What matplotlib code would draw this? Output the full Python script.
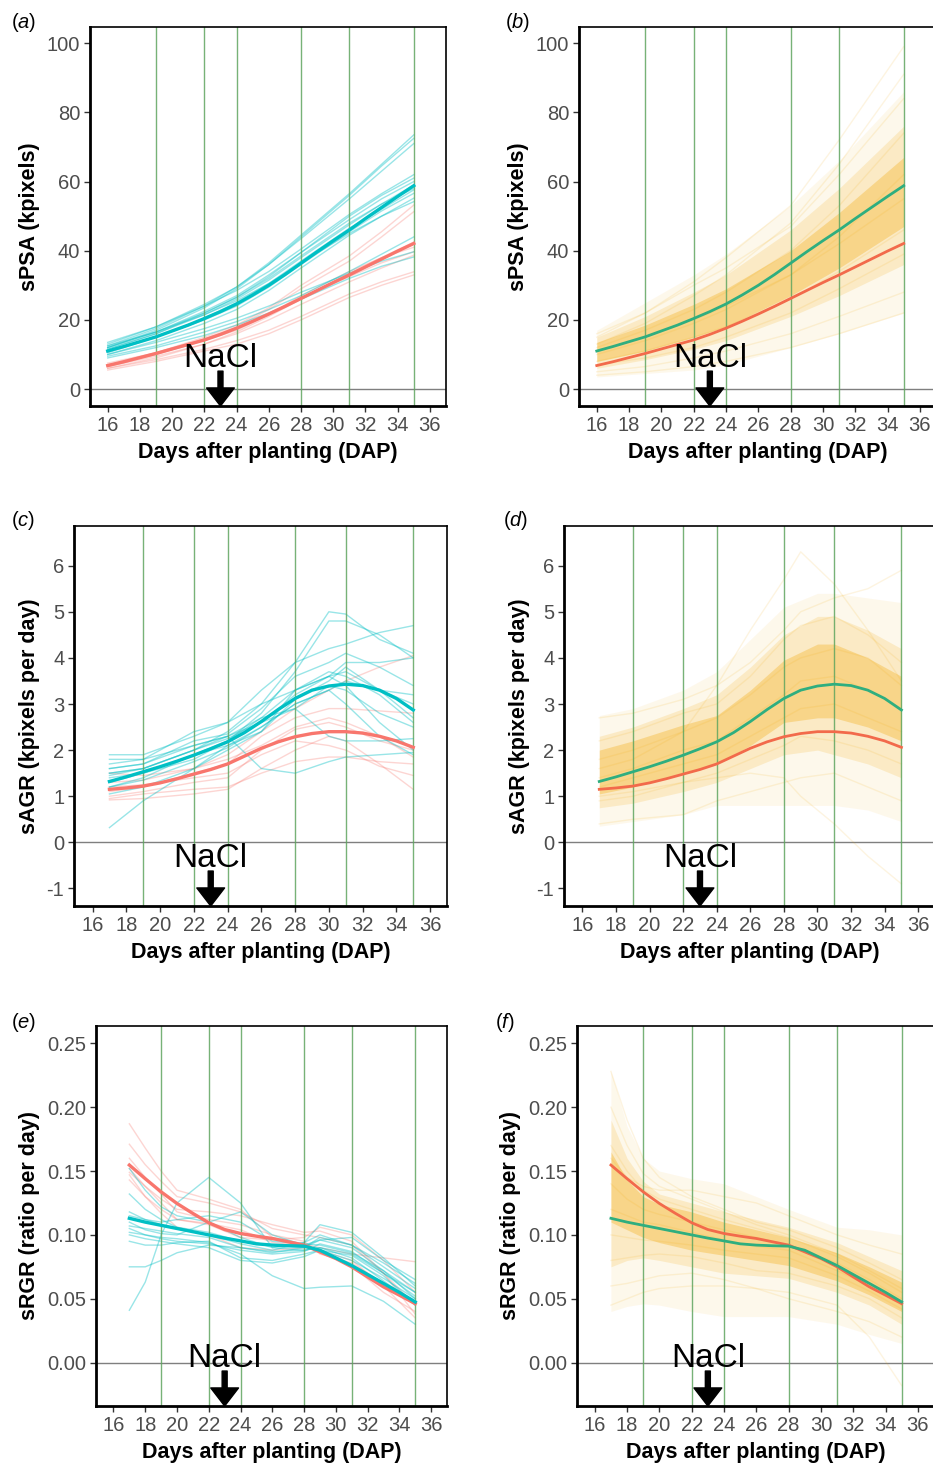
import matplotlib
matplotlib.use('Agg')
import matplotlib.pyplot as plt

plt.rcParams['font.family'] = ['Liberation Sans', 'DejaVu Sans']
plt.rcParams['mathtext.fontset'] = 'custom'
plt.rcParams['mathtext.it'] = 'Liberation Sans:italic'
plt.rcParams['mathtext.rm'] = 'Liberation Sans'

# ---------------- data ----------------
stage_days = [19, 22, 24, 28, 31, 35]
nacl_day = 23

days_psa = list(range(16, 36))
days_gr = list(range(17, 36))

# treatment means
psa_ctrl = [11.0, 12.3, 13.7, 15.1, 16.8, 18.5, 20.4, 22.4, 24.6, 27.2,
            30.0, 33.1, 36.4, 39.7, 42.9, 46.0, 49.3, 52.5, 55.7, 58.8]
psa_salt = [6.8, 7.9, 9.1, 10.3, 11.6, 12.9, 14.2, 15.8, 17.6, 19.6,
            21.7, 23.9, 26.2, 28.5, 30.8, 33.0, 35.3, 37.6, 39.9, 42.1]
agr_ctrl = [1.32, 1.42, 1.53, 1.64, 1.76, 1.89, 2.03, 2.18, 2.38, 2.62,
            2.88, 3.12, 3.30, 3.39, 3.43, 3.40, 3.30, 3.12, 2.87]
agr_salt = [1.15, 1.18, 1.22, 1.29, 1.38, 1.48, 1.58, 1.70, 1.87, 2.04,
            2.18, 2.29, 2.36, 2.40, 2.40, 2.37, 2.30, 2.20, 2.06]
rgr_ctrl = [0.113, 0.110, 0.1075, 0.105, 0.1025, 0.100, 0.0975, 0.0953, 0.093, 0.092,
            0.0915, 0.0912, 0.088, 0.082, 0.076, 0.069, 0.062, 0.055, 0.0475]
rgr_salt = [0.1547, 0.144, 0.1337, 0.1246, 0.1168, 0.1095, 0.1042, 0.1011, 0.099, 0.0972,
            0.0946, 0.092, 0.0867, 0.0815, 0.075, 0.0671, 0.0593, 0.0528, 0.0462]

# individual plants, panel (a)
days_a = [16, 19, 22, 24, 26, 28, 31, 33, 35]
psa_ctrl_plants = [
    [12.5, 17.5, 24.0, 29.5, 36.5, 44.5, 56.5, 65.0, 73.5],
    [12.0, 17.0, 23.5, 29.0, 36.0, 44.0, 56.0, 64.5, 72.5],
    [13.0, 18.0, 24.5, 29.5, 36.0, 43.5, 55.0, 63.0, 71.0],
    [13.5, 18.0, 24.0, 28.5, 34.0, 40.5, 50.5, 56.5, 62.0],
    [12.0, 16.5, 22.5, 27.0, 33.0, 39.5, 49.0, 55.0, 60.0],
    [11.5, 16.0, 21.5, 26.0, 31.5, 38.0, 47.5, 53.5, 59.0],
    [10.5, 15.0, 20.5, 25.0, 30.5, 37.0, 46.5, 52.0, 57.6],
    [11.0, 15.0, 20.0, 24.0, 29.5, 36.0, 45.5, 51.5, 56.6],
    [10.0, 14.0, 19.0, 23.0, 28.5, 35.0, 44.5, 50.0, 55.2],
    [12.5, 16.5, 21.5, 25.5, 30.5, 36.5, 45.0, 50.0, 54.2],
    [9.5, 12.5, 16.5, 19.5, 23.0, 27.0, 34.0, 39.0, 44.0],
    [10.0, 13.5, 17.5, 20.5, 24.0, 28.0, 33.5, 37.0, 39.7],
    [9.0, 12.0, 15.5, 18.5, 22.0, 26.0, 32.0, 35.5, 38.2],
    [11.5, 16.0, 22.0, 26.5, 32.5, 39.5, 50.0, 56.0, 61.0],
    [12.0, 16.5, 22.0, 26.5, 32.0, 38.5, 48.0, 53.5, 58.0],
]
psa_salt_plants = [
    [7.0, 10.5, 15.0, 18.5, 23.5, 30.0, 38.5, 45.5, 53.2],
    [6.5, 10.0, 14.5, 18.0, 23.0, 29.0, 37.0, 44.0, 51.3],
    [6.0, 9.0, 13.0, 16.5, 21.0, 26.0, 33.5, 38.0, 42.5],
    [7.5, 10.5, 14.5, 17.5, 21.5, 26.5, 32.5, 36.5, 39.7],
    [6.5, 9.5, 13.0, 16.0, 20.0, 24.5, 31.0, 35.0, 38.7],
    [6.0, 8.5, 11.5, 14.0, 17.0, 21.0, 27.5, 31.0, 33.9],
    [5.5, 8.0, 11.0, 13.0, 16.0, 20.0, 26.5, 30.0, 33.0],
    [7.0, 10.0, 14.0, 17.0, 21.5, 27.0, 34.0, 38.0, 41.0],
]

# individual plants, panel (c)
days_c = [17, 19, 22, 24, 26, 28, 30, 31, 33, 35]
agr_ctrl_plants = [
    [1.5, 1.6, 2.0, 2.4, 3.0, 3.9, 5.0, 4.95, 4.4, 4.1],
    [1.4, 1.5, 1.9, 2.2, 2.8, 3.7, 4.8, 4.8, 4.5, 4.0],
    [1.9, 1.9, 2.3, 2.6, 3.3, 3.9, 4.2, 4.3, 4.55, 4.7],
    [1.6, 1.7, 2.2, 2.35, 2.9, 3.6, 3.9, 4.1, 3.8, 3.4],
    [1.7, 1.8, 2.4, 2.6, 3.0, 3.3, 3.6, 3.9, 3.9, 4.0],
    [1.3, 1.5, 1.8, 2.2, 2.7, 3.3, 3.7, 3.6, 3.2, 2.6],
    [1.2, 1.4, 1.9, 2.1, 2.5, 3.0, 3.3, 3.5, 3.3, 3.0],
    [1.45, 1.6, 2.0, 2.3, 2.7, 2.9, 3.4, 3.3, 2.8, 2.5],
    [1.05, 1.2, 1.6, 2.0, 2.4, 3.1, 3.5, 3.8, 3.3, 2.7],
    [0.32, 0.9, 1.6, 2.1, 2.4, 3.3, 3.6, 3.7, 3.3, 3.2],
    [1.8, 1.8, 2.1, 2.3, 1.6, 1.5, 1.75, 1.85, 1.9, 1.95],
    [1.6, 1.7, 2.1, 2.3, 2.6, 2.9, 2.3, 2.2, 2.2, 2.25],
    [1.5, 1.6, 2.0, 2.25, 2.6, 3.2, 3.6, 3.4, 2.6, 2.0],
    [1.2, 1.35, 1.75, 2.05, 2.5, 3.0, 3.3, 3.0, 2.3, 1.9],
]
agr_salt_plants = [
    [1.5, 1.45, 1.6, 1.9, 2.4, 2.9, 3.3, 3.5, 3.8, 4.05],
    [1.1, 1.2, 1.5, 1.7, 2.3, 2.7, 2.9, 2.9, 2.85, 2.8],
    [1.0, 1.1, 1.3, 1.4, 2.0, 2.45, 2.6, 2.5, 2.2, 2.0],
    [0.95, 1.05, 1.15, 1.2, 1.5, 1.75, 1.85, 1.85, 1.75, 1.7],
    [0.92, 0.95, 1.05, 1.15, 1.6, 2.0, 2.3, 2.2, 1.7, 1.15],
    [1.2, 1.25, 1.4, 1.5, 1.9, 2.2, 2.1, 2.0, 1.65, 1.45],
    [1.3, 1.35, 1.6, 1.8, 2.1, 2.5, 2.7, 2.6, 2.3, 1.85],
]

# individual plants, panel (e)
days_e = [17, 18, 19, 20, 22, 24, 26, 28, 29, 31, 33, 35]
rgr_ctrl_plants = [
    [0.152, 0.135, 0.122, 0.115, 0.110, 0.098, 0.090, 0.094, 0.100, 0.092, 0.075, 0.058],
    [0.041, 0.063, 0.100, 0.125, 0.145, 0.125, 0.090, 0.088, 0.090, 0.085, 0.070, 0.055],
    [0.075, 0.075, 0.080, 0.086, 0.092, 0.090, 0.086, 0.090, 0.098, 0.092, 0.078, 0.062],
    [0.105, 0.100, 0.098, 0.097, 0.094, 0.085, 0.068, 0.058, 0.059, 0.060, 0.048, 0.030],
    [0.118, 0.112, 0.108, 0.105, 0.100, 0.093, 0.088, 0.094, 0.108, 0.102, 0.082, 0.060],
    [0.132, 0.120, 0.112, 0.106, 0.102, 0.095, 0.092, 0.090, 0.096, 0.090, 0.072, 0.050],
    [0.107, 0.105, 0.103, 0.101, 0.098, 0.090, 0.087, 0.088, 0.090, 0.082, 0.064, 0.046],
    [0.102, 0.100, 0.097, 0.095, 0.093, 0.088, 0.085, 0.087, 0.093, 0.087, 0.070, 0.052],
    [0.095, 0.092, 0.092, 0.094, 0.095, 0.082, 0.080, 0.085, 0.088, 0.084, 0.068, 0.045],
    [0.110, 0.104, 0.101, 0.100, 0.110, 0.118, 0.100, 0.092, 0.096, 0.098, 0.080, 0.065],
    [0.115, 0.112, 0.110, 0.112, 0.115, 0.110, 0.095, 0.093, 0.092, 0.086, 0.072, 0.055],
    [0.100, 0.097, 0.095, 0.093, 0.090, 0.080, 0.078, 0.083, 0.088, 0.080, 0.066, 0.050],
]
rgr_salt_plants = [
    [0.187, 0.168, 0.150, 0.135, 0.128, 0.120, 0.098, 0.093, 0.090, 0.085, 0.082, 0.079],
    [0.171, 0.155, 0.142, 0.130, 0.125, 0.118, 0.105, 0.100, 0.098, 0.092, 0.070, 0.045],
    [0.149, 0.138, 0.128, 0.120, 0.118, 0.115, 0.108, 0.102, 0.103, 0.095, 0.070, 0.038],
    [0.147, 0.130, 0.117, 0.106, 0.100, 0.090, 0.088, 0.090, 0.088, 0.080, 0.060, 0.035],
    [0.160, 0.145, 0.132, 0.118, 0.112, 0.108, 0.100, 0.095, 0.085, 0.078, 0.062, 0.045],
    [0.152, 0.138, 0.125, 0.112, 0.108, 0.098, 0.096, 0.098, 0.106, 0.100, 0.080, 0.055],
    [0.143, 0.130, 0.120, 0.112, 0.109, 0.104, 0.094, 0.092, 0.086, 0.076, 0.055, 0.040],
]

# whole diversity panel (b, d, f): spread bands + a few single plants
days_b = [16, 19, 22, 24, 28, 31, 35]
psa_outer = ([3.5, 4.5, 5.5, 7.0, 12.0, 16.0, 22.0], [17.0, 25.0, 33.0, 39.0, 53.0, 66.0, 86.0])
psa_mid = ([6.0, 8.5, 11.5, 14.0, 21.0, 27.0, 36.0], [15.0, 21.0, 28.0, 33.0, 46.0, 58.0, 76.0])
psa_core = ([8.0, 11.0, 15.0, 18.0, 27.0, 35.0, 47.0], [13.5, 18.5, 24.5, 29.0, 40.0, 51.0, 67.0])
psa_all_plants = [
    [15, 22, 31, 38, 53, 72, 99],
    [13, 19, 27, 33, 48, 65, 91],
    [16, 22, 30, 35, 47, 62, 84],
    [12, 17, 23, 28, 40, 53, 74],
    [10, 14, 19, 23, 33, 44, 62],
    [11, 15, 20, 24, 33, 42, 55],
    [8, 11, 15, 18, 26, 34, 46],
    [7, 9, 12, 15, 22, 29, 39],
    [5, 6.5, 9, 11, 16, 21, 28],
    [4, 5, 6.5, 8, 12, 16, 22],
]

days_d = [17, 19, 22, 24, 26, 28, 30, 31, 33, 35]
agr_outer = ([0.35, 0.45, 0.6, 0.8, 0.8, 0.8, 0.8, 0.8, 0.7, 0.45], [2.75, 2.9, 3.3, 3.7, 4.4, 5.1, 5.4, 5.4, 5.3, 5.2])
agr_mid = ([0.75, 0.85, 1.1, 1.3, 1.6, 1.9, 2.0, 1.9, 1.7, 1.4], [2.3, 2.5, 2.9, 3.2, 3.8, 4.5, 4.9, 4.9, 4.6, 4.2])
agr_core = ([1.05, 1.2, 1.5, 1.7, 2.1, 2.6, 2.7, 2.7, 2.5, 2.2], [2.0, 2.2, 2.55, 2.75, 3.3, 3.95, 4.3, 4.3, 4.0, 3.6])
days_d_plants = [17, 19, 22, 24, 26, 28, 29, 31, 33, 35]
agr_all_plants = [
    [1.6, 1.8, 2.4, 3.4, 4.6, 5.7, 6.3, 5.6, 4.6, 3.5],
    [2.7, 2.8, 3.1, 3.4, 3.9, 4.6, 5.0, 5.3, 5.5, 5.9],
    [2.2, 2.4, 2.8, 3.0, 3.6, 4.4, 4.7, 4.9, 4.5, 3.9],
    [1.8, 2.0, 2.4, 2.7, 3.2, 3.8, 4.0, 4.2, 4.0, 3.4],
    [1.4, 1.6, 2.0, 2.2, 2.7, 3.2, 3.5, 3.6, 3.3, 2.9],
    [1.2, 1.4, 1.7, 1.9, 2.3, 2.7, 2.9, 3.0, 2.7, 2.4],
    [0.9, 1.0, 1.3, 1.5, 1.8, 2.1, 2.3, 2.2, 2.0, 1.7],
    [1.0, 1.1, 1.3, 1.4, 1.5, 1.4, 1.0, 0.4, -0.3, -0.9],
    [0.4, 0.5, 0.6, 0.9, 1.1, 1.3, 1.4, 1.5, 1.2, 0.9],
]

days_f = [17, 18, 19, 20, 22, 24, 26, 28, 31, 33, 35]
rgr_outer = ([0.040, 0.044, 0.046, 0.045, 0.040, 0.036, 0.036, 0.036, 0.030, 0.022, 0.015],
             [0.228, 0.185, 0.160, 0.150, 0.144, 0.140, 0.130, 0.120, 0.106, 0.104, 0.100])
rgr_mid = ([0.075, 0.080, 0.082, 0.080, 0.075, 0.070, 0.068, 0.066, 0.055, 0.045, 0.030],
           [0.190, 0.160, 0.142, 0.132, 0.125, 0.118, 0.112, 0.106, 0.094, 0.083, 0.072])
rgr_core = ([0.110, 0.104, 0.098, 0.094, 0.088, 0.084, 0.080, 0.076, 0.064, 0.053, 0.040],
            [0.165, 0.143, 0.130, 0.124, 0.118, 0.110, 0.104, 0.098, 0.086, 0.075, 0.063])
rgr_all_plants = [
    [0.228, 0.19, 0.16, 0.145, 0.13, 0.12, 0.11, 0.104, 0.09, 0.078, 0.065],
    [0.20, 0.17, 0.148, 0.138, 0.128, 0.118, 0.108, 0.100, 0.085, 0.072, 0.058],
    [0.17, 0.15, 0.135, 0.128, 0.12, 0.112, 0.105, 0.098, 0.083, 0.070, 0.055],
    [0.14, 0.128, 0.12, 0.116, 0.11, 0.104, 0.098, 0.092, 0.078, 0.065, 0.050],
    [0.12, 0.115, 0.11, 0.108, 0.102, 0.096, 0.091, 0.088, 0.072, 0.060, 0.045],
    [0.10, 0.098, 0.096, 0.095, 0.092, 0.088, 0.085, 0.082, 0.068, 0.056, 0.042],
    [0.08, 0.082, 0.084, 0.085, 0.083, 0.078, 0.072, 0.070, 0.060, 0.050, 0.035],
    [0.045, 0.05, 0.055, 0.058, 0.06, 0.06, 0.058, 0.055, 0.045, 0.020, -0.018],
    [0.06, 0.062, 0.065, 0.068, 0.07, 0.065, 0.058, 0.050, 0.040, 0.032, 0.020],
    [0.16, 0.145, 0.138, 0.135, 0.135, 0.13, 0.125, 0.115, 0.10, 0.092, 0.085],
]

# ---------------- styling ----------------
TEAL = '#00BFC4'
SALMON = '#F8766D'
GREEN_MEAN = '#2fae7f'
RED_MEAN = '#f26a4b'
ORANGE = '#F2A600'
STAGE = '#5fa55f'

W, H = 933, 1465
fig = plt.figure(figsize=(W / 100, H / 100), dpi=100)


def px_axes(left, top, right, bottom):
    return fig.add_axes([left / W, 1 - bottom / H, (right - left) / W, (bottom - top) / H])


def style(ax, ylim, yticks, ylabels, ylabel):
    ax.set_xlim(14.9, 37.0)
    ax.set_ylim(*ylim)
    ax.set_xticks(range(16, 37, 2))
    ax.set_yticks(yticks)
    ax.set_yticklabels(ylabels)
    ax.tick_params(colors='#333333', labelcolor='#4d4d4d', labelsize=14.5, length=4, width=1, pad=3)
    for side in ['left', 'bottom']:
        ax.spines[side].set_linewidth(2.0)
    for side in ['top', 'right']:
        ax.spines[side].set_linewidth(1.2)
    for s in ax.spines.values():
        s.set_zorder(10)
    ax.axhline(0, color='#7f7f7f', lw=1.0, zorder=1)
    for d in stage_days:
        ax.axvline(d, color=STAGE, lw=1.0, alpha=0.85, zorder=4)
    ax.set_xlabel('Days after planting (DAP)', fontsize=15.5, fontweight='bold', labelpad=5)
    ax.set_ylabel(ylabel, fontsize=15.5, fontweight='bold', labelpad=5)
    ax.text(nacl_day, 0.103, 'NaCl', transform=ax.get_xaxis_transform(),
            ha='center', va='baseline', fontsize=24, zorder=12)
    ax.annotate('', xy=(nacl_day, 0.0), xytext=(nacl_day, 0.092),
                xycoords=ax.get_xaxis_transform(), textcoords=ax.get_xaxis_transform(),
                arrowprops=dict(facecolor='black', edgecolor='black', width=3.6,
                                headwidth=20, headlength=13, shrink=0),
                annotation_clip=False, zorder=12)


def thin(ax, days, plants, color, alpha=0.4):
    for p in plants:
        ax.plot(days, p, color=color, lw=1.0, alpha=alpha, zorder=2)


def bands(ax, days, outer, mid, core):
    ax.fill_between(days, outer[0], outer[1], color=ORANGE, alpha=0.08, lw=0, zorder=2)
    ax.fill_between(days, mid[0], mid[1], color=ORANGE, alpha=0.16, lw=0, zorder=2)
    ax.fill_between(days, core[0], core[1], color=ORANGE, alpha=0.30, lw=0, zorder=2)


def letter(x, y, ch):
    fig.text(x / W, 1 - y / H, '($\\mathit{' + ch + '}$)', fontsize=14.5, ha='left', va='center')


psa_ticks = [0, 20, 40, 60, 80, 100]
agr_ticks = [-1, 0, 1, 2, 3, 4, 5, 6]
rgr_ticks = [0.0, 0.05, 0.10, 0.15, 0.20, 0.25]
psa_lim = (-4.9, 104.7)
agr_lim = (-1.38, 6.86)
rgr_lim = (-0.034, 0.2636)

# (a)
ax = px_axes(90, 27, 446, 406)
style(ax, psa_lim, psa_ticks, [str(t) for t in psa_ticks], 'sPSA (kpixels)')
thin(ax, days_a, psa_salt_plants, SALMON, alpha=0.3)
thin(ax, days_a, psa_ctrl_plants, TEAL)
ax.plot(days_psa, psa_salt, color=SALMON, lw=2.4, zorder=5)
ax.plot(days_psa, psa_ctrl, color=TEAL, lw=2.4, zorder=5)
letter(11, 22, 'a')

# (b)
ax = px_axes(579, 27, 936, 406)
style(ax, psa_lim, psa_ticks, [str(t) for t in psa_ticks], 'sPSA (kpixels)')
bands(ax, days_b, psa_outer, psa_mid, psa_core)
thin(ax, days_b, psa_all_plants, ORANGE, alpha=0.12)
ax.plot(days_psa, psa_salt, color=RED_MEAN, lw=2.0, zorder=5)
ax.plot(days_psa, psa_ctrl, color=GREEN_MEAN, lw=2.0, zorder=5)
letter(505, 22, 'b')

# (c)
ax = px_axes(74, 526, 447, 906)
style(ax, agr_lim, agr_ticks, [str(t) for t in agr_ticks], 'sAGR (kpixels per day)')
thin(ax, days_c, agr_salt_plants, SALMON, alpha=0.3)
thin(ax, days_c, agr_ctrl_plants, TEAL)
ax.plot(days_gr, agr_salt, color=SALMON, lw=2.4, zorder=5)
ax.plot(days_gr, agr_ctrl, color=TEAL, lw=2.4, zorder=5)
letter(11, 521, 'c')

# (d)
ax = px_axes(564, 526, 935, 906)
style(ax, agr_lim, agr_ticks, [str(t) for t in agr_ticks], 'sAGR (kpixels per day)')
bands(ax, days_d, agr_outer, agr_mid, agr_core)
thin(ax, days_d_plants, agr_all_plants, ORANGE, alpha=0.12)
ax.plot(days_gr, agr_salt, color=RED_MEAN, lw=2.0, zorder=5)
ax.plot(days_gr, agr_ctrl, color=GREEN_MEAN, lw=2.0, zorder=5)
letter(503, 521, 'd')

# (e)
ax = px_axes(96, 1026, 447, 1406)
style(ax, rgr_lim, rgr_ticks, ['%.2f' % t for t in rgr_ticks], 'sRGR (ratio per day)')
thin(ax, days_e, rgr_salt_plants, SALMON, alpha=0.3)
thin(ax, days_e, rgr_ctrl_plants, TEAL)
ax.plot(days_gr, rgr_salt, color=SALMON, lw=2.4, zorder=5)
ax.plot(days_gr, rgr_ctrl, color=TEAL, lw=2.4, zorder=5)
letter(11, 1022, 'e')

# (f)
ax = px_axes(577, 1026, 934, 1406)
style(ax, rgr_lim, rgr_ticks, ['%.2f' % t for t in rgr_ticks], 'sRGR (ratio per day)')
bands(ax, days_f, rgr_outer, rgr_mid, rgr_core)
thin(ax, days_f, rgr_all_plants, ORANGE, alpha=0.12)
ax.plot(days_gr, rgr_salt, color=RED_MEAN, lw=2.0, zorder=5)
ax.plot(days_gr, rgr_ctrl, color=GREEN_MEAN, lw=2.0, zorder=5)
letter(495, 1022, 'f')

fig.savefig('out.png', dpi=100)
